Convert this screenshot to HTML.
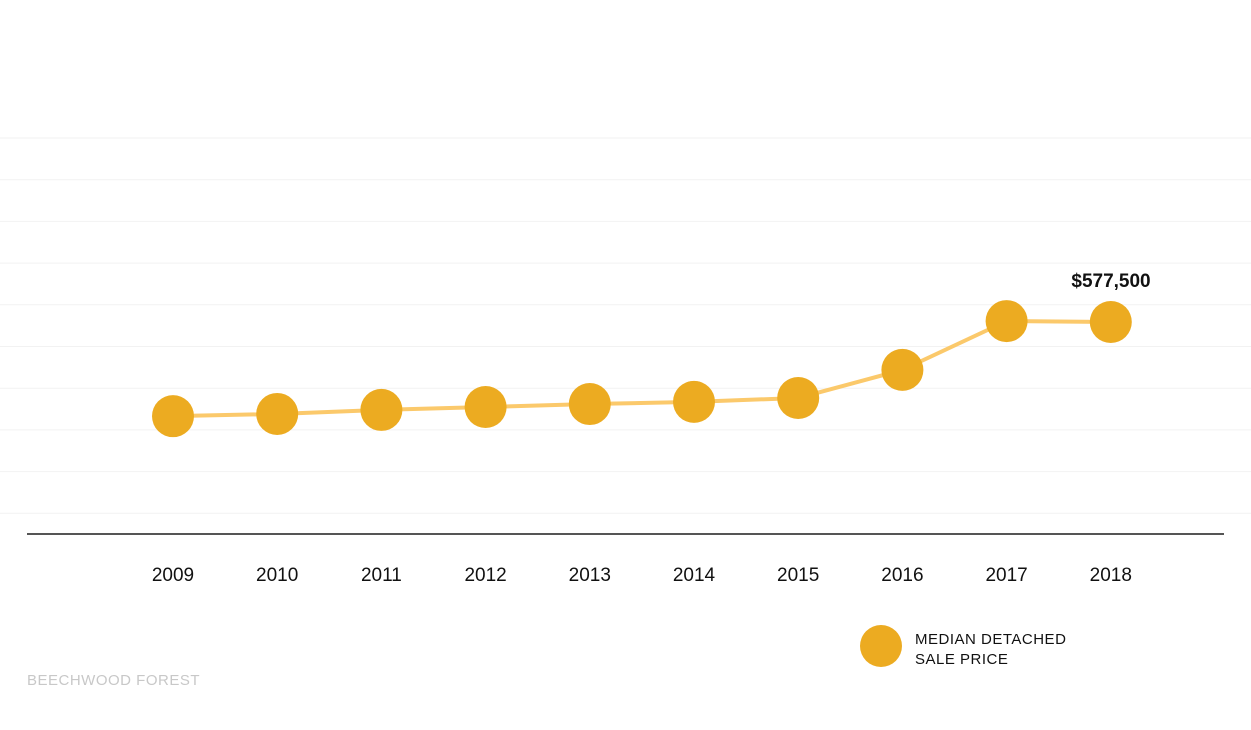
<!DOCTYPE html>
<html><head><meta charset="utf-8">
<style>
body{margin:0;background:#fff;}
svg{display:block;}
text{font-family:"Liberation Sans",sans-serif;}
</style></head>
<body>
<svg width="1251" height="730" xmlns="http://www.w3.org/2000/svg">
<g id="grid"></g>
<line x1="27" y1="534" x2="1224" y2="534" stroke="#555" stroke-width="2"/>
<g id="marks"></g>
<g id="xlabels"></g>
<text x="1111" y="287" text-anchor="middle" font-size="19" font-weight="bold" fill="#111" id="lastlabel"></text>
<g>
<circle cx="881" cy="646" r="21" fill="#ecab21"/>
<text x="915" y="644" font-size="15" fill="#111" letter-spacing="0.5">MEDIAN DETACHED<tspan x="915" dy="20">SALE PRICE</tspan></text>
</g>
<text x="27" y="685" font-size="15" fill="#c8c8c8" letter-spacing="0.5">BEECHWOOD FOREST</text>
</svg>
<script>
const years = ["2009","2010","2011","2012","2013","2014","2015","2016","2017","2018"];
const prices = [321000,327000,338000,346000,354000,360000,370500,447000,580000,577500];
const gridCount = 10;

const NS="http://www.w3.org/2000/svg";
function x(i){return 173 + i*104.2;}
function y(v){return 534 - v*(212/577500);}
function mk(tag,attrs,parent){const e=document.createElementNS(NS,tag);for(const k in attrs)e.setAttribute(k,attrs[k]);parent.appendChild(e);return e;}

const grid=document.getElementById('grid');
for(let g=0;g<gridCount;g++){
  const gy=138+g*41.7;
  const l=mk('line',{x1:0,x2:1251,y1:gy,y2:gy,stroke:'#f2f2f2','stroke-width':1},grid);
  
  
}
const marks=document.getElementById('marks');
const pts=prices.map((v,i)=>x(i)+','+y(v)).join(' ');
const pl=mk('polyline',{points:pts,fill:'none',stroke:'#fbc96b','stroke-width':4},marks);


prices.forEach((v,i)=>{
  const c=mk('circle',{cx:x(i),cy:y(v),r:21,fill:'#ecab21'},marks);
  
  
});
const xl=document.getElementById('xlabels');
years.forEach((t,i)=>{
  const e=mk('text',{x:x(i),y:581,'text-anchor':'middle','font-size':19,fill:'#111'},xl);
  e.textContent=t;
  
  
});
const last=prices[prices.length-1];
const ll=document.getElementById('lastlabel');
ll.textContent='$'+last.toLocaleString('en-US');
ll.setAttribute('y', y(last)-35);
</script>
</body></html>
